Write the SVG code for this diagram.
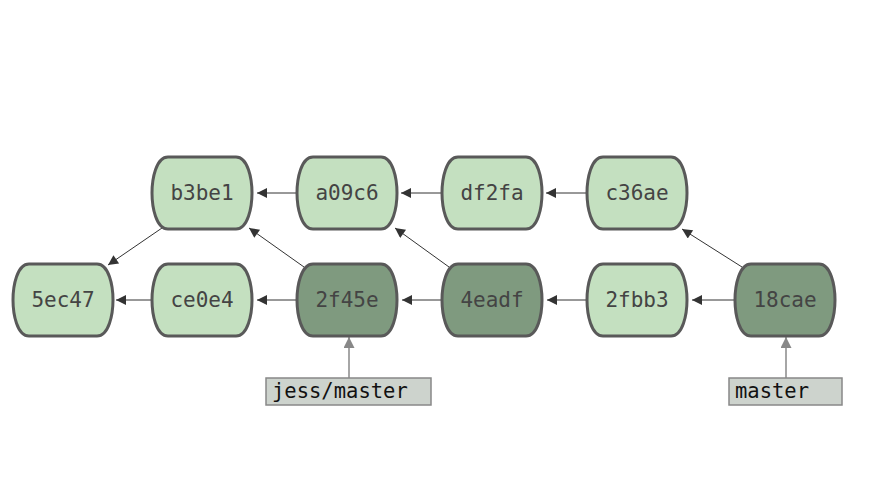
<svg xmlns="http://www.w3.org/2000/svg" width="871" height="494" viewBox="0 0 871 494">
<style>
.n{stroke:#595959;stroke-width:3}
.l{fill:#c4e0c0}
.d{fill:#7f9a7f}
.t{font-family:"DejaVu Sans Mono",monospace;font-size:21px;fill:#444;text-anchor:middle;dominant-baseline:central}
.e{stroke:#333;stroke-width:1;fill:none;marker-end:url(#a)}
.r{stroke:#888;stroke-width:1.5;fill:none;marker-end:url(#g)}
.b{fill:#cdd3cd;stroke:#888;stroke-width:1.5}
.bt{font-family:"DejaVu Sans Mono",monospace;font-size:20.5px;fill:#111;dominant-baseline:central}
</style>
<defs>
<marker id="a" viewBox="0 0 10 10" refX="10" refY="5" markerWidth="12" markerHeight="10" markerUnits="userSpaceOnUse" orient="auto"><path d="M0,0L10,5L0,10Z" fill="#333"/></marker>
<marker id="g" viewBox="0 0 10 10" refX="10" refY="5" markerWidth="14" markerHeight="11" markerUnits="userSpaceOnUse" orient="auto"><path d="M0,0L10,5L0,10Z" fill="#888"/></marker>
<path id="s" d="M16,0H84C96,0 100,22 100,36C100,50 96,72 84,72H16C4,72 0,50 0,36C0,22 4,0 16,0Z"/>
</defs>
<rect width="871" height="494" fill="#fff"/>
<g id="connectors">
<line class="e" x1="297" y1="193" x2="257" y2="193"/>
<line class="e" x1="442" y1="193" x2="401" y2="193"/>
<line class="e" x1="587" y1="193" x2="546" y2="193"/>
<line class="e" x1="162" y1="228" x2="108" y2="265"/>
<line class="e" x1="152" y1="300" x2="116" y2="300"/>
<line class="e" x1="297" y1="300" x2="257" y2="300"/>
<line class="e" x1="442" y1="300" x2="402" y2="300"/>
<line class="e" x1="587" y1="300" x2="547" y2="300"/>
<line class="e" x1="735" y1="300" x2="692" y2="300"/>
<line class="e" x1="304" y1="267" x2="249" y2="228"/>
<line class="e" x1="449" y1="267" x2="395" y2="228"/>
<line class="e" x1="742" y1="267" x2="682" y2="229"/>
<line class="r" x1="349" y1="378" x2="349" y2="337"/>
<line class="r" x1="786" y1="378" x2="786" y2="337"/>
</g>
<g id="b3be1"><use href="#s" class="n l" x="152" y="157"/><text class="t" x="202" y="193">b3be1</text></g>
<g id="a09c6"><use href="#s" class="n l" x="297" y="157"/><text class="t" x="347" y="193">a09c6</text></g>
<g id="df2fa"><use href="#s" class="n l" x="442" y="157"/><text class="t" x="492" y="193">df2fa</text></g>
<g id="c36ae"><use href="#s" class="n l" x="587" y="157"/><text class="t" x="637" y="193">c36ae</text></g>
<g id="5ec47"><use href="#s" class="n l" x="13" y="264"/><text class="t" x="63" y="300">5ec47</text></g>
<g id="ce0e4"><use href="#s" class="n l" x="152" y="264"/><text class="t" x="202" y="300">ce0e4</text></g>
<g id="2f45e"><use href="#s" class="n d" x="297" y="264"/><text class="t" x="347" y="300">2f45e</text></g>
<g id="4eadf"><use href="#s" class="n d" x="442" y="264"/><text class="t" x="492" y="300">4eadf</text></g>
<g id="2fbb3"><use href="#s" class="n l" x="587" y="264"/><text class="t" x="637" y="300">2fbb3</text></g>
<g id="18cae"><use href="#s" class="n d" x="735" y="264"/><text class="t" x="785" y="300">18cae</text></g>
<g id="jess-master"><rect class="b" x="266" y="378" width="165" height="27"/><text class="bt" x="272" y="391">jess/master</text></g>
<g id="master"><rect class="b" x="729" y="378" width="113" height="27"/><text class="bt" x="735" y="391">master</text></g>
</svg>
